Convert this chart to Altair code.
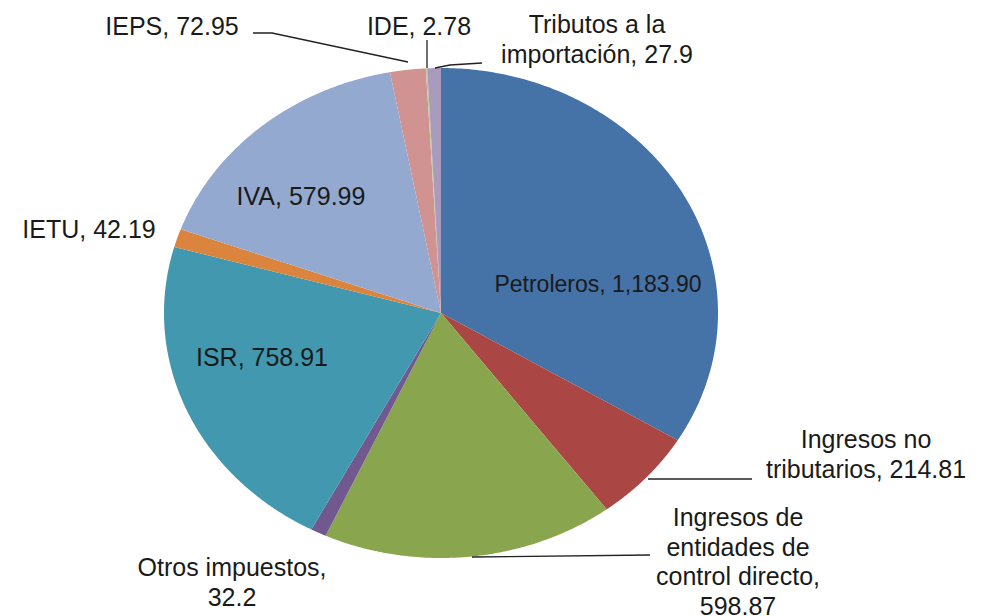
import altair as alt
import pandas as pd

# ---- data ----
categories = ["Petroleros", "Ingresos no tributarios",
              "Ingresos de entidades de control directo", "Otros impuestos",
              "ISR", "IETU", "IVA", "IEPS", "IDE", "Tributos a la importación"]
values = [1183.90, 214.81, 598.87, 32.2, 758.91, 42.19, 579.99, 72.95, 2.78, 27.9]
colors = ["#4572A7", "#AA4643", "#89A54E", "#71588F", "#4198AF",
          "#DB843D", "#93A9CF", "#D19392", "#B9CD96", "#A99BBD"]

label_texts = ["Petroleros, 1,183.90", "Ingresos no\ntributarios, 214.81",
               "Ingresos de\nentidades de\ncontrol directo,\n598.87",
               "Otros impuestos,\n32.2", "ISR, 758.91", "IETU, 42.19",
               "IVA, 579.99", "IEPS, 72.95", "IDE, 2.78",
               "Tributos a la\nimportación, 27.9"]

# ---- layout (page pixels); y is the first line's middle ----
CX, CY, RX, RY = 441, 313, 277, 245
label_px = [598, 866, 738, 232, 262, 89, 301, 172, 419, 597]
label_py = [285, 440, 518, 568, 358, 230, 197, 27, 27, 25]
label_fs = [23, 25, 25, 25, 25, 25, 25, 25, 25, 25]

leaders = [
    [(253, 33), (272, 33), (408, 62)],
    [(427, 40), (427, 68)],
    [(435, 68), (450, 65), (482, 63)],
    [(648, 479), (752, 479)],
    [(472, 557), (650, 555)],
]

def to_x(px):
    return (px - CX) / RX

def to_y(py):
    return (CY - py) / RY

df = pd.DataFrame({"category": categories, "value": values,
                   "idx": list(range(len(categories)))})

labels = pd.DataFrame({"text": label_texts,
                       "x": [to_x(v) for v in label_px],
                       "y": [to_y(v) for v in label_py],
                       "fs": label_fs})

rows = []
for i, seg in enumerate(leaders):
    for j, (px, py) in enumerate(seg):
        rows.append({"line": i, "k": j, "x": to_x(px), "y": to_y(py)})
lines = pd.DataFrame(rows)

xs = alt.Scale(domain=[-1, 1], nice=False, zero=False)
ys = alt.Scale(domain=[-1, 1], nice=False, zero=False)

pie = (
    alt.Chart(df)
    .transform_window(cum="sum(value)", sort=[alt.SortField("idx", order="ascending")],
                      frame=[None, 0])
    .transform_joinaggregate(total="sum(value)")
    .transform_calculate(a0="2*PI*(datum.cum-datum.value)/datum.total")
    .transform_calculate(a1="2*PI*datum.cum/datum.total")
    .transform_calculate(t="sequence(-1, 181)")
    .transform_flatten(["t"])
    .transform_calculate(ang="datum.a0 + (max(datum.t,0)/180)*(datum.a1-datum.a0)")
    .transform_calculate(r="datum.t < 0 ? 0 : 1")
    .transform_calculate(px="datum.r*sin(datum.ang)")
    .transform_calculate(py="datum.r*cos(datum.ang)")
    .mark_line(filled=True, interpolate="linear-closed")
    .encode(
        x=alt.X("px:Q", scale=xs, axis=None),
        y=alt.Y("py:Q", scale=ys, axis=None),
        color=alt.Color("category:N", scale=alt.Scale(domain=categories, range=colors),
                        legend=None),
        detail="category:N",
        order=alt.Order("t:Q"),
    )
)

leader_layer = (
    alt.Chart(lines)
    .mark_line(color="#222222", strokeWidth=1.3)
    .encode(x=alt.X("x:Q", scale=xs, axis=None),
            y=alt.Y("y:Q", scale=ys, axis=None),
            detail="line:N",
            order=alt.Order("k:Q"))
)

text_layer = (
    alt.Chart(labels)
    .mark_text(font="Liberation Sans", color="#1a1a1a", align="center",
               baseline="middle", lineBreak="\n", lineHeight=29.5)
    .encode(x=alt.X("x:Q", scale=xs, axis=None),
            y=alt.Y("y:Q", scale=ys, axis=None),
            text="text:N",
            size=alt.Size("fs:Q", scale=None, legend=None))
)

chart = (
    alt.layer(pie, leader_layer, text_layer)
    .properties(width=2 * RX, height=2 * RY,
                padding={"left": CX - RX - 8, "top": CY - RY - 8, "right": 258, "bottom": 60},
                autosize=alt.AutoSizeParams(type="none"),
                background="white")
    .configure_view(stroke=None)
)

chart.save("out.html", embed_options={"renderer": "svg", "actions": False})
